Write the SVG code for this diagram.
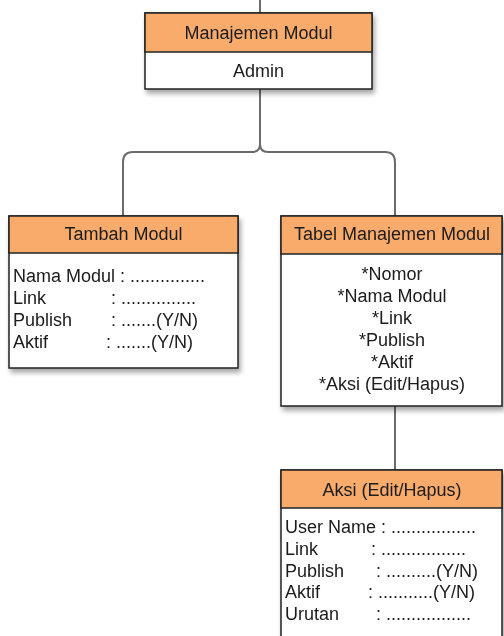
<svg xmlns="http://www.w3.org/2000/svg" width="504" height="636" viewBox="0 0 504 636">
<defs>
<style>
text{font-family:"Liberation Sans",Arial,Helvetica,sans-serif;font-size:18px;fill:#1a1a1a}
.c{text-anchor:middle}
.hdr{fill:#F8AB6A;stroke:#222;stroke-width:1.5}
.bdy{fill:#fff;stroke:#222;stroke-width:1.5}
.ln{fill:none;stroke:#6b6b6b;stroke-width:2}
</style>
<filter id="sh" x="-10%" y="-10%" width="130%" height="140%">
<feGaussianBlur in="SourceAlpha" stdDeviation="2.5"/>
<feOffset dx="2" dy="4" result="b"/>
<feComponentTransfer><feFuncA type="linear" slope="0.35"/></feComponentTransfer>
<feMerge><feMergeNode/><feMergeNode in="SourceGraphic"/></feMerge>
</filter>
</defs>
<rect width="504" height="636" fill="#fff"/>
<g id="connectors">
<path class="ln" d="M260,0 V13"/>
<path class="ln" d="M260,89 V144 Q260,152 252,152 H133 Q123,152 123,162 V216"/>
<path class="ln" d="M260,144 Q260,152 268,152 H385 Q395,152 395,162 V216"/>
<path class="ln" d="M395,406 V470"/>
</g>
<g id="node-manajemen" filter="url(#sh)">
<rect class="bdy" x="145" y="13" width="227" height="76"/>
<rect class="hdr" x="145" y="13" width="227" height="39"/>
<text class="c" x="258.5" y="39">Manajemen Modul</text>
<text class="c" x="258.5" y="77">Admin</text>
</g>
<g id="node-tambah" filter="url(#sh)">
<rect class="bdy" x="9" y="216" width="229" height="152"/>
<rect class="hdr" x="9" y="216" width="229" height="37"/>
<text class="c" x="123.5" y="240">Tambah Modul</text>
<text x="13" y="282">Nama Modul : ...............</text>
<text y="304"><tspan x="13">Link</tspan><tspan x="111">: ...............</tspan></text>
<text y="326"><tspan x="13">Publish</tspan><tspan x="111">: .......(Y/N)</tspan></text>
<text y="348"><tspan x="13">Aktif</tspan><tspan x="106">: .......(Y/N)</tspan></text>
</g>
<g id="node-tabel" filter="url(#sh)">
<rect class="bdy" x="281" y="216" width="221" height="190"/>
<rect class="hdr" x="281" y="216" width="221" height="38"/>
<text class="c" x="392" y="240">Tabel Manajemen Modul</text>
<text class="c" x="392" y="280">*Nomor</text>
<text class="c" x="392" y="302">*Nama Modul</text>
<text class="c" x="392" y="324">*Link</text>
<text class="c" x="392" y="346">*Publish</text>
<text class="c" x="392" y="368">*Aktif</text>
<text class="c" x="392" y="390">*Aksi (Edit/Hapus)</text>
</g>
<g id="node-aksi" filter="url(#sh)">
<rect class="bdy" x="281" y="470" width="221" height="190"/>
<rect class="hdr" x="281" y="470" width="221" height="38"/>
<text class="c" x="392" y="496">Aksi (Edit/Hapus)</text>
<text x="285" y="533">User Name : .................</text>
<text y="555"><tspan x="285">Link</tspan><tspan x="371">: .................</tspan></text>
<text y="577"><tspan x="285">Publish</tspan><tspan x="376">: ..........(Y/N)</tspan></text>
<text y="598"><tspan x="285">Aktif</tspan><tspan x="368">: ...........(Y/N)</tspan></text>
<text y="620"><tspan x="285">Urutan</tspan><tspan x="376">: .................</tspan></text>
</g>
</svg>
